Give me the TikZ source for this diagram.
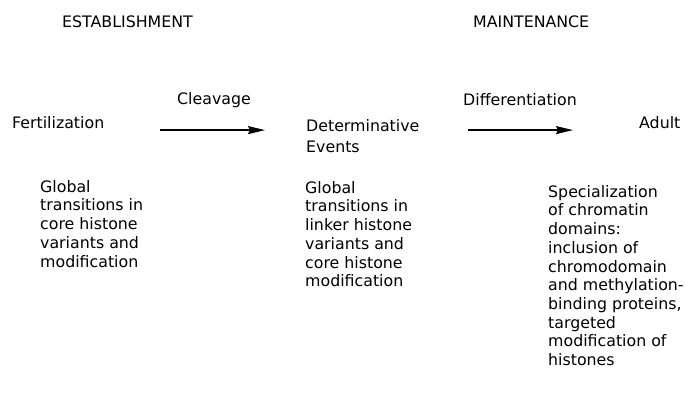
\documentclass[tikz,border=0pt]{standalone}
\usepackage{fontspec}
\setmainfont{DejaVu Sans}
\usetikzlibrary{arrows.meta, calc}
\tikzset{
  every node/.style={font=\fontsize{15.8}{18.7}\selectfont, inner sep=0pt},
  head/.style  = {anchor=base west},
  stage/.style = {anchor=base west, align=left},
  note/.style  = {anchor=north west, align=left},
  lbl/.style   = {anchor=base},
  arrow/.style = {-{Stealth[length=17pt,width=8pt,inset=2pt]}, line width=1.3pt},
}

\begin{document}
\begin{tikzpicture}[x=1pt, y=-1pt]
  \useasboundingbox (0,0) rectangle (685,397);

  \node[head]  (est)   at (62,27.6)   {ESTABLISHMENT};
  \node[head]  (main)  at (473,27.6)  {MAINTENANCE};

  \node[stage] (fert)  at (12,128.6)  {Fertilization};
  \node[note]  (det)   at (306,119)   {Determinative\\[3pt]Events};
  \node[stage] (adult) at (639,128.6) {Adult};

  \node[lbl]   (cleav) at (214,104.5) {Cleavage};
  \node[lbl]   (diff)  at (520,105.5) {Differentiation};

  \node[note]  (core)  at (40,180)  {Global\\transitions in\\core histone\\variants and\\modification};
  \node[note]  (link)  at (305,181) {Global\\transitions in\\linker histone\\variants and\\core histone\\modification};
  \node[note]  (spec)  at (548,185) {Specialization\\of chromatin\\domains:\\inclusion of\\chromodomain\\and methylation-\\binding proteins,\\targeted\\modification of\\histones};

  \draw[arrow, shorten <=56pt, shorten >=41pt]
    ([yshift=-1.5pt]fert.base east) -- ([yshift=-1.5pt]fert.base east -| det.west);
  \draw[arrow, shorten <=48pt, shorten >=66pt]
    ([yshift=-1.5pt]adult.base west -| det.east) -- ([yshift=-1.5pt]adult.base west);
\end{tikzpicture}
\end{document}
